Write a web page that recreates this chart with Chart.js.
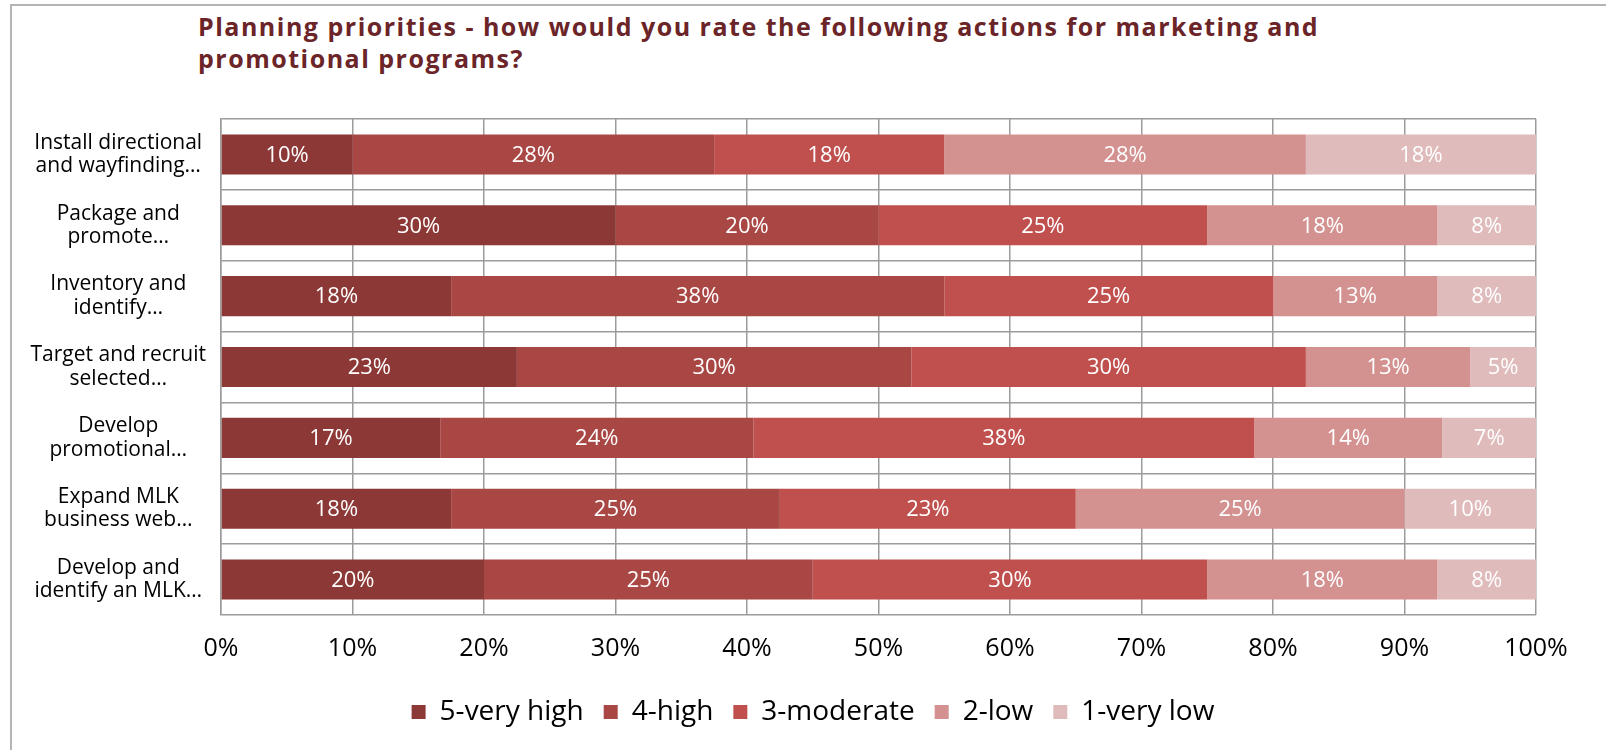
<!DOCTYPE html>
<html lang="en">

<head>
    <meta charset="UTF-8">
    <title>Planning priorities</title>
    <script src="https://cdn.jsdelivr.net/npm/chart.js"></script>
    <style>
        html, body { margin: 0; padding: 0; background: #fff; overflow: hidden; }
        .moldura {
            position: absolute; left: 10px; top: 4px; width: 1640px; height: 800px;
            border-left: 2px solid #b4b4b4; border-top: 2px solid #b4b4b4;
        }
        .titulo {
            position: absolute; left: 198px; top: 10px;
            font-family: "Open Sans", sans-serif; font-weight: bold; font-size: 25px;
            letter-spacing: 1.5px; line-height: 32px; color: #6b2428;
        }
        .grafico { position: absolute; left: 0; top: 0; width: 1606px; height: 750px; }
    </style>
</head>

<body>
    <div class="moldura"></div>
    <div class="titulo">Planning priorities - how would you rate the following actions for marketing and<br>promotional programs?</div>
    <div class="grafico">
        <canvas id="myChartCanvas"></canvas>
    </div>
</body>

</html>

<script>
    // categorias (eixo y)
    var acoes = [
        ['Install directional', 'and wayfinding…'],
        ['Package and', 'promote…'],
        ['Inventory and', 'identify…'],
        ['Target and recruit', 'selected…'],
        ['Develop', 'promotional…'],
        ['Expand MLK', 'business web…'],
        ['Develop and', 'identify an MLK…']
    ];

    // percentuais de cada resposta
    var muitoAlta = [10, 30, 17.5, 22.5, 16.67, 17.5, 20];
    var alta = [27.5, 20, 37.5, 30, 23.81, 25, 25];
    var moderada = [17.5, 25, 25, 30, 38.10, 22.5, 30];
    var baixa = [27.5, 17.5, 12.5, 12.5, 14.29, 25, 17.5];
    var muitoBaixa = [17.5, 7.5, 7.5, 5, 7.14, 10, 7.5];

    var ticksX = [0, 10, 20, 30, 40, 50, 60, 70, 80, 90, 100];

    var fonte = '"Open Sans", sans-serif';

    // escreve o percentual no meio de cada barra
    const rotulos = {
        id: 'rotulos',
        afterDatasetsDraw(chart) {
            const ctx = chart.ctx;
            ctx.save();
            ctx.fillStyle = '#ffffff';
            ctx.font = '22px ' + fonte;
            ctx.textAlign = 'center';
            ctx.textBaseline = 'middle';
            chart.data.datasets.forEach((ds, i) => {
                chart.getDatasetMeta(i).data.forEach((barra, j) => {
                    const p = barra.getCenterPoint();
                    ctx.fillText(Math.round(ds.data[j]) + '%', p.x, p.y + 1);
                });
            });
            ctx.restore();
        }
    };

    // empurra a legenda um pouco para a direita, como no original
    const moverLegenda = {
        id: 'moverLegenda',
        afterLayout(chart) {
            chart.legend.left += 45;
            chart.legend.right += 45;
        }
    };

    let dados = {
        labels: acoes,
        datasets: [
            { label: '5-very high', data: muitoAlta, backgroundColor: '#8c3836' },
            { label: '4-high', data: alta, backgroundColor: '#a94745' },
            { label: '3-moderate', data: moderada, backgroundColor: '#c0504e' },
            { label: '2-low', data: baixa, backgroundColor: '#d39190' },
            { label: '1-very low', data: muitoBaixa, backgroundColor: '#e0bbbb' }
        ]
    };

    let options = {
        indexAxis: 'y',
        responsive: true,
        maintainAspectRatio: false,
        animation: false,
        datasets: {
            bar: { barPercentage: 0.566, categoryPercentage: 1 }
        },
        layout: {
            padding: { left: 0, right: 70, top: 119, bottom: 14 }
        },
        scales: {
            x: {
                stacked: true,
                min: 0,
                max: 100,
                afterBuildTicks: (eixo) => { eixo.ticks = ticksX.map(v => ({ value: v })); },
                afterFit: (eixo) => { eixo.height = 63; },
                ticks: {
                    color: '#000',
                    padding: 18.5,
                    font: { family: fonte, size: 25 },
                    callback: (v) => v + '%'
                },
                grid: { color: '#9c9c9c', lineWidth: 1.5, drawTicks: false },
                border: { display: false }
            },
            y: {
                stacked: true,
                afterFit: (eixo) => { eixo.width = 221; },
                ticks: {
                    color: '#000',
                    padding: 15,
                    crossAlign: 'center',
                    font: { family: fonte, size: 21, lineHeight: 1.12 }
                },
                grid: { color: '#9c9c9c', lineWidth: 1.5, offset: true, drawTicks: false },
                border: { color: '#9c9c9c', width: 1.5 }
            }
        },
        plugins: {
            legend: {
                position: 'bottom',
                labels: {
                    color: '#000',
                    boxWidth: 14,
                    boxHeight: 14,
                    padding: 20,
                    font: { family: fonte, size: 28 }
                }
            },
            tooltip: { enabled: false }
        }
    };

    const config = {
        type: 'bar',
        data: dados,
        options: options,
        plugins: [rotulos, moverLegenda]
    };

    let myChart = new Chart(document.getElementById('myChartCanvas'), config);
</script>
